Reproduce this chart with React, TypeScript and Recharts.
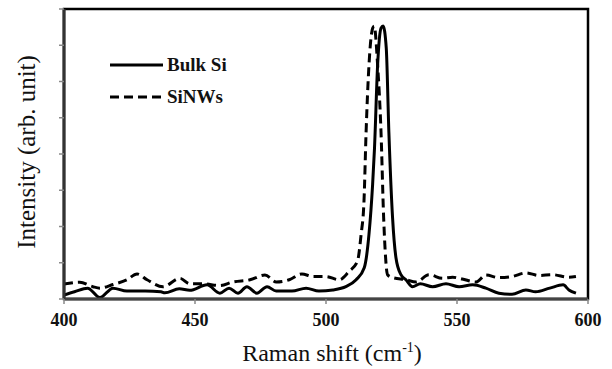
import React from 'react';
import { LineChart, Line, XAxis, YAxis, ReferenceArea } from 'recharts';

// Raman spectra (arb. unit)
const bulkShift = [
  400, 404, 409, 413.7, 418.7, 424, 431, 437, 438.5, 444, 448, 454.6, 459.5, 463,
  466.4, 469.8, 473.6, 477.5, 481, 487, 492.4, 497.3, 502.6, 507.6, 511.5, 514.6,
  516.4, 517.8, 518.5, 519.7, 521, 521.8, 523, 524, 525.4, 526.7, 528.6, 530.5,
  533, 536, 540.7, 545.8, 550.8, 556, 561, 566, 571, 576.3, 580, 585.4, 590.5,
  592.7, 595.4,
];
const bulkIntensity = [
  0.11, 0.2, 0.3, 0.04, 0.3, 0.22, 0.22, 0.2, 0.17, 0.28, 0.24, 0.39, 0.16, 0.3,
  0.16, 0.34, 0.16, 0.34, 0.22, 0.22, 0.3, 0.22, 0.25, 0.34, 0.53, 0.86, 1.78,
  3.17, 4.14, 6.45, 7.47, 7.53, 6.92, 4.6, 2.25, 1.14, 0.67, 0.53, 0.34, 0.42,
  0.34, 0.42, 0.34, 0.39, 0.3, 0.16, 0.13, 0.25, 0.2, 0.3, 0.39, 0.25, 0.16,
];

const nwShift = [
  400, 406, 411, 413.7, 418.7, 424, 427.9, 431.7, 437.8, 444.3, 448, 453, 459.5,
  464.5, 471, 476.7, 481, 486, 490.8, 495, 500, 505, 508.8, 512, 513.4, 514.5,
  515.3, 516.4, 517.8, 518.4, 519.7, 521, 522, 523.5, 525, 530.5, 534.4, 539.3,
  544.5, 548.3, 552, 557.3, 561, 566, 571, 576.3, 581.3, 586.5, 592.7, 595.4,
];
const nwIntensity = [
  0.41, 0.46, 0.34, 0.3, 0.4, 0.53, 0.69, 0.53, 0.34, 0.57, 0.42, 0.42, 0.37,
  0.47, 0.53, 0.66, 0.47, 0.53, 0.69, 0.62, 0.62, 0.53, 0.76, 1.04, 1.78, 2.7,
  4.6, 6.45, 7.47, 7.53, 6.45, 4.6, 2.25, 0.67, 0.6, 0.53, 0.47, 0.67, 0.57, 0.6,
  0.55, 0.47, 0.66, 0.59, 0.62, 0.72, 0.65, 0.67, 0.6, 0.62,
];

const xTicks = [400, 450, 500, 550, 600];
const yTicks = [0, 1, 2, 3, 4, 5, 6, 7, 8];

const bulkData = bulkShift.map((x, i) => ({ x, y: bulkIntensity[i] }));
const nwData = nwShift.map((x, i) => ({ x, y: nwIntensity[i] }));

const SERIF = '"Liberation Serif", "Times New Roman", serif';
const DASH = '9 5';

const XLabel = ({ viewBox }: any) => {
  const cx = viewBox.x + viewBox.width / 2 + 6;
  return (
    <text x={cx} y={361} textAnchor="middle" fontFamily={SERIF} fontSize={24} fill="#111">
      Raman shift (cm
      <tspan fontSize={14} dy={-9}>-1</tspan>
      <tspan dy={9}>)</tspan>
    </text>
  );
};

const YLabel = () => {
  const cy = 152;
  return (
    <text
      x={35}
      y={cy}
      transform={`rotate(-90 35 ${cy})`}
      textAnchor="middle"
      fontFamily={SERIF}
      fontSize={25}
      fill="#111"
    >
      Intensity (arb. unit)
    </text>
  );
};

// legend drawn as an overlay inside the plot area (top-left)
const SpectrumLegend = () => (
  <svg
    width={160}
    height={60}
    style={{ position: 'absolute', left: 108, top: 50, display: 'block' }}
  >
    <line x1={2} y1={15} x2={55} y2={15} stroke="#000" strokeWidth={3} />
    <text x={59} y={21} fontFamily={SERIF} fontWeight="bold" fontSize={19} fill="#111">
      Bulk Si
    </text>
    <line x1={2} y1={47} x2={55} y2={47} stroke="#000" strokeWidth={3} strokeDasharray={DASH} />
    <text x={59} y={53} fontFamily={SERIF} fontWeight="bold" fontSize={19} fill="#111">
      SiNWs
    </text>
  </svg>
);

export default function App() {
  return (
    <div style={{ position: 'absolute', left: 0, top: 0, background: '#fff' }}>
      <LineChart
        width={612}
        height={369}
        margin={{ top: 9, right: 24, bottom: 0, left: 0 }}
      >
        <XAxis
          dataKey="x"
          type="number"
          domain={[400, 600]}
          ticks={xTicks}
          allowDataOverflow
          height={70}
          tickSize={5}
          tickLine={{ stroke: '#888', strokeWidth: 1.5 }}
          axisLine={{ stroke: '#444', strokeWidth: 3 }}
          tick={{ fontFamily: SERIF, fontWeight: 'bold', fontSize: 18, fill: '#111', dy: 7 }}
          label={<XLabel />}
        />
        <YAxis
          type="number"
          domain={[0, 8]}
          ticks={yTicks}
          width={64}
          tickSize={5}
          tickFormatter={() => ''}
          tickLine={{ stroke: '#888', strokeWidth: 1.5 }}
          axisLine={{ stroke: '#333', strokeWidth: 3 }}
          label={<YLabel />}
        />
        <ReferenceArea
          x1={400}
          x2={600}
          y1={0}
          y2={8}
          fill="none"
          stroke="#000"
          strokeWidth={2.5}
        />
        <Line
          data={bulkData}
          dataKey="y"
          type="monotone"
          stroke="#000"
          strokeWidth={3}
          dot={false}
          isAnimationActive={false}
          name="Bulk Si"
        />
        <Line
          data={nwData}
          dataKey="y"
          type="monotone"
          stroke="#000"
          strokeWidth={3}
          strokeDasharray={DASH}
          dot={false}
          isAnimationActive={false}
          name="SiNWs"
        />
      </LineChart>
      <SpectrumLegend />
    </div>
  );
}
